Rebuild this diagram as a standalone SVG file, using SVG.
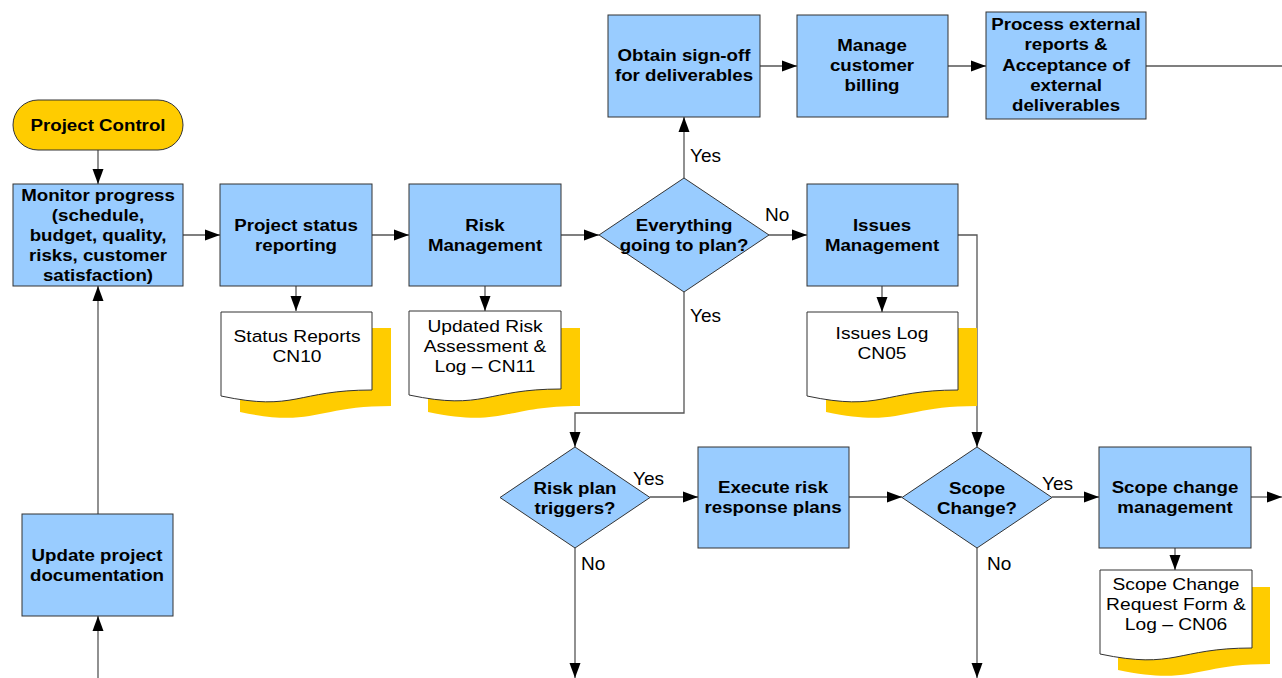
<svg xmlns="http://www.w3.org/2000/svg" width="1282" height="678" viewBox="0 0 1282 678">
<defs>
<marker id="arr" markerUnits="userSpaceOnUse" markerWidth="16" markerHeight="12" refX="15" refY="6" orient="auto">
<path d="M0,0.5 L15,6 L0,11.5 z" fill="#000"/>
</marker>
<style>
.box{fill:#99CCFF;stroke:#333;stroke-width:1}
.term{fill:#FFCC00;stroke:#333;stroke-width:1}
.doc{fill:#fff;stroke:#333;stroke-width:1}
.shadow{fill:#FFCC00;stroke:none}
.b{font-family:"Liberation Sans",Arial,sans-serif;font-weight:bold;font-size:17px;fill:#000;text-anchor:middle}
.r{font-family:"Liberation Sans",Arial,sans-serif;font-size:17px;fill:#000;text-anchor:middle}
.lbl{font-family:"Liberation Sans",Arial,sans-serif;font-size:19px;fill:#000}
.c{fill:none;stroke:#555;stroke-width:1.3;marker-end:url(#arr)}
.cn{fill:none;stroke:#555;stroke-width:1.3}
</style>
</defs>
<rect width="1282" height="678" fill="#fff"/>

<g id="connectors">
<path class="c" d="M98,150 V184"/>
<path class="c" d="M183,235 H220"/>
<path class="c" d="M296,286 V311"/>
<path class="c" d="M372,235 H409"/>
<path class="c" d="M485,286 V311"/>
<path class="c" d="M561,235 H599"/>
<path class="c" d="M769,235 H807"/>
<path class="c" d="M684,178 V117"/>
<path class="c" d="M760,66 H797"/>
<path class="c" d="M948,66 H986"/>
<path class="cn" d="M1146,66 H1282"/>
<path class="c" d="M882,286 V312"/>
<path class="c" d="M958,235 H977 V447"/>
<path class="c" d="M684,292 V413 H575 V447"/>
<path class="c" d="M650,497 H698"/>
<path class="c" d="M575,548 V678"/>
<path class="c" d="M849,497 H902"/>
<path class="c" d="M1052,497 H1099"/>
<path class="c" d="M1251,497 H1282"/>
<path class="c" d="M1175,548 V570"/>
<path class="c" d="M977,548 V678"/>
<path class="c" d="M98,514 V286"/>
<path class="c" d="M98,678 V616"/>
<text class="lbl" x="690" y="162">Yes</text>
<text class="lbl" x="690" y="322">Yes</text>
<text class="lbl" x="765" y="221">No</text>
<text class="lbl" x="633" y="485">Yes</text>
<text class="lbl" x="581" y="570">No</text>
<text class="lbl" x="1042" y="490">Yes</text>
<text class="lbl" x="987" y="570">No</text>
</g>

<g id="project-control">
<rect class="term" x="13" y="100" width="170" height="50" rx="25" ry="25"/>
<g transform="translate(98,0) scale(1.1,1)">
<text class="b" x="0" y="131">Project Control</text>
</g>
</g>

<g id="monitor-progress">
<rect class="box" x="13" y="184" width="170" height="102"/>
<g transform="translate(98,0) scale(1.1,1)">
<text class="b" x="0" y="201">Monitor progress</text>
<text class="b" x="0" y="221">(schedule,</text>
<text class="b" x="0" y="241">budget, quality,</text>
<text class="b" x="0" y="261">risks, customer</text>
<text class="b" x="0" y="281">satisfaction)</text>
</g>
</g>

<g id="project-status">
<rect class="box" x="220" y="184" width="152" height="102"/>
<g transform="translate(296,0) scale(1.1,1)">
<text class="b" x="0" y="231">Project status</text>
<text class="b" x="0" y="251">reporting</text>
</g>
</g>

<g id="status-reports">
<path class="shadow" d="M240,328 H391 V406 C315,406 315,428 240,412 Z"/>
<path class="doc" d="M221,312 H372 V390 C296,390 296,412 221,396 Z"/>
<g transform="translate(297,0) scale(1.13,1)">
<text class="r" x="0" y="342">Status Reports</text>
<text class="r" x="0" y="362">CN10</text>
</g>
</g>

<g id="risk-management">
<rect class="box" x="409" y="184" width="152" height="102"/>
<g transform="translate(485,0) scale(1.1,1)">
<text class="b" x="0" y="231">Risk</text>
<text class="b" x="0" y="251">Management</text>
</g>
</g>

<g id="updated-risk">
<path class="shadow" d="M428,328 H580 V406 C504,406 504,428 428,412 Z"/>
<path class="doc" d="M409,311 H561 V389 C485,389 485,411 409,395 Z"/>
<g transform="translate(485,0) scale(1.13,1)">
<text class="r" x="0" y="332">Updated Risk</text>
<text class="r" x="0" y="352">Assessment &amp;</text>
<text class="r" x="0" y="372">Log – CN11</text>
</g>
</g>

<g id="everything-to-plan">
<path class="box" d="M684,178 L769,235 L684,292 L599,235 Z"/>
<g transform="translate(684,0) scale(1.1,1)">
<text class="b" x="0" y="231">Everything</text>
<text class="b" x="0" y="251">going to plan?</text>
</g>
</g>

<g id="obtain-signoff">
<rect class="box" x="608" y="15" width="152" height="102"/>
<g transform="translate(684,0) scale(1.1,1)">
<text class="b" x="0" y="61">Obtain sign-off</text>
<text class="b" x="0" y="81">for deliverables</text>
</g>
</g>

<g id="manage-billing">
<rect class="box" x="797" y="15" width="151" height="102"/>
<g transform="translate(872,0) scale(1.1,1)">
<text class="b" x="0" y="51">Manage</text>
<text class="b" x="0" y="71">customer</text>
<text class="b" x="0" y="91">billing</text>
</g>
</g>

<g id="process-external">
<rect class="box" x="986" y="12" width="160" height="107"/>
<g transform="translate(1066,0) scale(1.1,1)">
<text class="b" x="0" y="30">Process external</text>
<text class="b" x="0" y="50">reports &amp;</text>
<text class="b" x="0" y="71">Acceptance of</text>
<text class="b" x="0" y="91">external</text>
<text class="b" x="0" y="111">deliverables</text>
</g>
</g>

<g id="issues-management">
<rect class="box" x="807" y="184" width="151" height="102"/>
<g transform="translate(882,0) scale(1.1,1)">
<text class="b" x="0" y="231">Issues</text>
<text class="b" x="0" y="251">Management</text>
</g>
</g>

<g id="issues-log">
<path class="shadow" d="M826,328 H977 V406 C901,406 901,428 826,412 Z"/>
<path class="doc" d="M807,312 H958 V390 C882,390 882,412 807,396 Z"/>
<g transform="translate(882,0) scale(1.13,1)">
<text class="r" x="0" y="339">Issues Log</text>
<text class="r" x="0" y="359">CN05</text>
</g>
</g>

<g id="risk-plan-triggers">
<path class="box" d="M575,447 L650,497.5 L575,548 L500,497.5 Z"/>
<g transform="translate(575,0) scale(1.1,1)">
<text class="b" x="0" y="494">Risk plan</text>
<text class="b" x="0" y="514">triggers?</text>
</g>
</g>

<g id="execute-risk">
<rect class="box" x="698" y="447" width="151" height="101"/>
<g transform="translate(773,0) scale(1.1,1)">
<text class="b" x="0" y="493">Execute risk</text>
<text class="b" x="0" y="513">response plans</text>
</g>
</g>

<g id="scope-change">
<path class="box" d="M977,447 L1052,497.5 L977,548 L902,497.5 Z"/>
<g transform="translate(977,0) scale(1.1,1)">
<text class="b" x="0" y="494">Scope</text>
<text class="b" x="0" y="514">Change?</text>
</g>
</g>

<g id="scope-change-management">
<rect class="box" x="1099" y="447" width="152" height="101"/>
<g transform="translate(1175,0) scale(1.1,1)">
<text class="b" x="0" y="493">Scope change</text>
<text class="b" x="0" y="513">management</text>
</g>
</g>

<g id="scope-change-request">
<path class="shadow" d="M1118,587 H1270 V664 C1194,664 1194,686 1118,670 Z"/>
<path class="doc" d="M1100,570 H1252 V648 C1176,648 1176,670 1100,654 Z"/>
<g transform="translate(1176,0) scale(1.13,1)">
<text class="r" x="0" y="590">Scope Change</text>
<text class="r" x="0" y="610">Request Form &amp;</text>
<text class="r" x="0" y="630">Log – CN06</text>
</g>
</g>

<g id="update-documentation">
<rect class="box" x="22" y="514" width="151" height="102"/>
<g transform="translate(97,0) scale(1.1,1)">
<text class="b" x="0" y="561">Update project</text>
<text class="b" x="0" y="581">documentation</text>
</g>
</g>
</svg>
